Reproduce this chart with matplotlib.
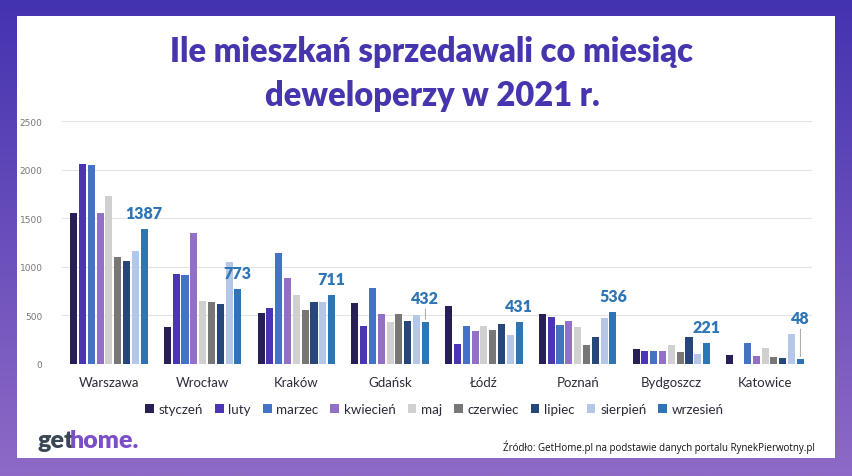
import numpy as np
import matplotlib

matplotlib.use("Agg")
import matplotlib.pyplot as plt
from matplotlib.patches import Rectangle

# --- Data ---
cities = ["Warszawa", "Wrocław", "Kraków", "Gdańsk", "Łódź", "Poznań", "Bydgoszcz", "Katowice"]
months = ["styczeń", "luty", "marzec", "kwiecień", "maj", "czerwiec", "lipiec", "sierpień", "wrzesień"]

styczen = [1551, 377, 527, 623, 592, 517, 158, 89]
luty = [2058, 931, 575, 387, 209, 486, 134, 0]
marzec = [2048, 914, 1140, 777, 394, 404, 137, 219]
kwiecien = [1551, 1349, 880, 517, 336, 442, 134, 82]
maj = [1726, 647, 712, 435, 390, 380, 199, 164]
czerwiec = [1099, 637, 555, 517, 346, 199, 120, 75]
lipiec = [1055, 613, 637, 445, 411, 281, 281, 58]
sierpien = [1161, 1051, 637, 503, 298, 469, 99, 305]
wrzesien = [1387, 773, 711, 432, 431, 536, 221, 48]

series = [styczen, luty, marzec, kwiecien, maj, czerwiec, lipiec, sierpien, wrzesien]
colors = ["#262057", "#4B35B5", "#4472C4", "#9370C8", "#D0D0D0",
          "#797676", "#27467A", "#B4C7E7", "#2E75B6"]

# label lift above the last bar (pixels) - two labels use a leader line
label_gap = [8, 8, 8, 16, 8, 8, 8, 33]

fig = plt.figure(figsize=(8.52, 4.77), dpi=100)

# --- background gradient + white panel ---
bg = fig.add_axes([0, 0, 1, 1])
bg.set_axis_off()
top = np.array([0x44, 0x33, 0xB0]) / 255
bot = np.array([0x8E, 0x6A, 0xC6]) / 255
t = np.linspace(0, 1, 256)[:, None]
grad = top[None, :] * (1 - t) + bot[None, :] * t
bg.imshow(grad[:, None, :], aspect="auto", extent=[0, 1, 0, 1])
bg.set_xlim(0, 1)
bg.set_ylim(0, 1)
bg.add_patch(Rectangle((17 / 852, 1 - 459 / 477), (835 - 17) / 852, (459 - 17) / 477,
                       facecolor="white", edgecolor="none"))

# --- title ---
title_kw = dict(ha="center", va="center", fontsize=23.5, fontweight="heavy",
                color="#4535AE", family="Lato")
fig.text(0.507, 1 - 52 / 477, "Ile mieszkań sprzedawali co miesiąc", **title_kw)
fig.text(0.507, 1 - 96 / 477, "deweloperzy w 2021 r.", **title_kw)

# --- bars ---
ax = fig.add_axes([62 / 852, 1 - 365 / 477, 750 / 852, 243 / 477])
ax.patch.set_alpha(0)
x = np.arange(len(cities))
n = len(series)
slot = 0.094
bw = 0.075
for i, (vals, c, m) in enumerate(zip(series, colors, months)):
    pos = x + (i - (n - 1) / 2) * slot
    ax.bar(pos, vals, width=bw, color=c, label=m, zorder=3)

last_pos = x + (n - 1 - (n - 1) / 2) * slot
for xp, v, gap in zip(last_pos, wrzesien, label_gap):
    ax.annotate(str(v), (xp, v), xytext=(0, gap * 0.72), textcoords="offset points",
                ha="center", va="bottom", fontsize=11.5, fontweight="heavy",
                color="#2E75B6", family="Lato", zorder=5)
    if gap > 10:
        ax.annotate("", (xp, v), xytext=(0, gap * 0.72), textcoords="offset points",
                    arrowprops=dict(arrowstyle="-", color="#999999", lw=0.6))

ax.set_xlim(-0.5, len(cities) - 0.5)
ax.set_ylim(0, 2500)
ax.set_yticks([0, 500, 1000, 1500, 2000, 2500])
ax.grid(axis="y", color="#E3E3E3", lw=0.8, zorder=0)
ax.set_xticks(x)
ax.set_xticklabels(cities, fontsize=9.5, color="#2B2B3A", family="Lato")
ax.tick_params(axis="y", labelsize=6.5, labelcolor="#777777", length=0, pad=14)
ax.tick_params(axis="x", length=0, pad=9)
for s in ax.spines.values():
    s.set_visible(False)
for lbl in ax.get_yticklabels():
    lbl.set_horizontalalignment("right")

# --- legend ---
leg = fig.legend(loc="center", bbox_to_anchor=(0.51, 1 - 410 / 477), ncol=9, frameon=False,
                 handlelength=0.65, handleheight=0.65, handletextpad=0.35,
                 columnspacing=0.9, prop={"family": "Lato", "size": 9.6})
for txt in leg.get_texts():
    txt.set_color("#2B2B3A")

# --- logo + source ---
fig.text(37 / 852, 1 - 441 / 477, "get", fontsize=18, fontweight="heavy",
         color="#3B4656", family="Lato", va="center", ha="left")
fig.text(70 / 852, 1 - 441 / 477, "home.", fontsize=18, fontweight="heavy",
         color="#7B4FC6", family="Lato", va="center", ha="left")
fig.text(815 / 852, 1 - 447 / 477,
         "Źródło: GetHome.pl na podstawie danych portalu RynekPierwotny.pl",
         fontsize=7, color="#111111", family="Open Sans", va="center", ha="right")

fig.savefig("out.png", dpi=100)
